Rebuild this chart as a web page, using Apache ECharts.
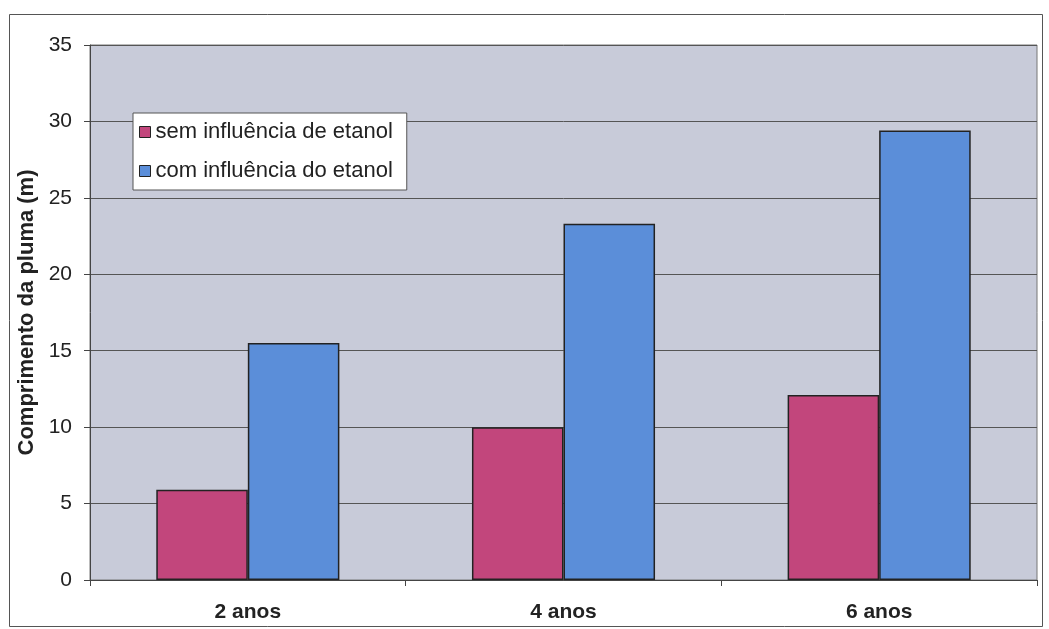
<!DOCTYPE html>
<html>
<head>
<meta charset="utf-8">
<script src="https://cdn.jsdelivr.net/npm/echarts@6/dist/echarts.min.js"></script>
<style>
html,body{margin:0;padding:0;background:#fff;}
#c{width:1049px;height:629px;}
</style>
</head>
<body>
<div id="c"></div>
<script>
const categories = ['2 anos', '4 anos', '6 anos'];
const semEtanol = [5.9, 10.0, 12.1];
const comEtanol = [15.5, 23.3, 29.4];
const seriesNames = ['sem influência de etanol', 'com influência do etanol'];
const yAxisName = 'Comprimento da pluma (m)';

const chart = echarts.init(document.getElementById('c'), null, {renderer: 'canvas'});
const font = 'Liberation Sans, Arial, sans-serif';
chart.setOption({
  animation: false,
  backgroundColor: '#ffffff',
  graphic: [{
    type: 'rect', left: 7, top: 12, shape: {width: 1033, height: 612},
    style: {fill: 'none', stroke: '#555', lineWidth: 1}, z: -1
  }],
  grid: {left: 90, right: 12, top: 45, bottom: 49, show: true,
    backgroundColor: '#c8cbd9', borderWidth: 1, borderColor: '#777'},
  legend: {
    left: 133, top: 113, orient: 'vertical',
    backgroundColor: '#ffffff', borderColor: '#555', borderWidth: 1,
    padding: [8, 14, 8, 6], itemGap: 17,
    itemWidth: 11, itemHeight: 11,
    icon: 'rect',
    textStyle: {fontFamily: font, fontSize: 22, color: '#222'},
    itemStyle: {borderColor: '#222', borderWidth: 1},
    data: seriesNames
  },
  xAxis: {
    type: 'category', data: categories,
    axisLine: {lineStyle: {color: '#444', width: 1}},
    axisTick: {show: true, length: 6, lineStyle: {color: '#444'}},
    axisLabel: {fontFamily: font, fontSize: 21, fontWeight: 'bold', color: '#222', margin: 22}
  },
  yAxis: {
    type: 'value', min: 0, max: 35, interval: 5,
    name: yAxisName, nameLocation: 'middle', nameGap: 48,
    nameTextStyle: {fontFamily: font, fontSize: 22, fontWeight: 'bold', color: '#222'},
    axisLine: {show: true, lineStyle: {color: '#444', width: 1}},
    axisTick: {show: true, length: 6, lineStyle: {color: '#444'}},
    axisLabel: {fontFamily: font, fontSize: 21, color: '#222', margin: 18},
    splitLine: {lineStyle: {color: '#555', width: 1}}
  },
  series: [
    {name: seriesNames[0], type: 'bar', data: semEtanol, barGap: '0%', barCategoryGap: '42%',
      itemStyle: {color: '#c2467c', borderColor: '#222', borderWidth: 1.5}},
    {name: seriesNames[1], type: 'bar', data: comEtanol, barGap: '0%', barCategoryGap: '42%',
      itemStyle: {color: '#5b8ed9', borderColor: '#222', borderWidth: 1.5}}
  ]
});
</script>
</body>
</html>
